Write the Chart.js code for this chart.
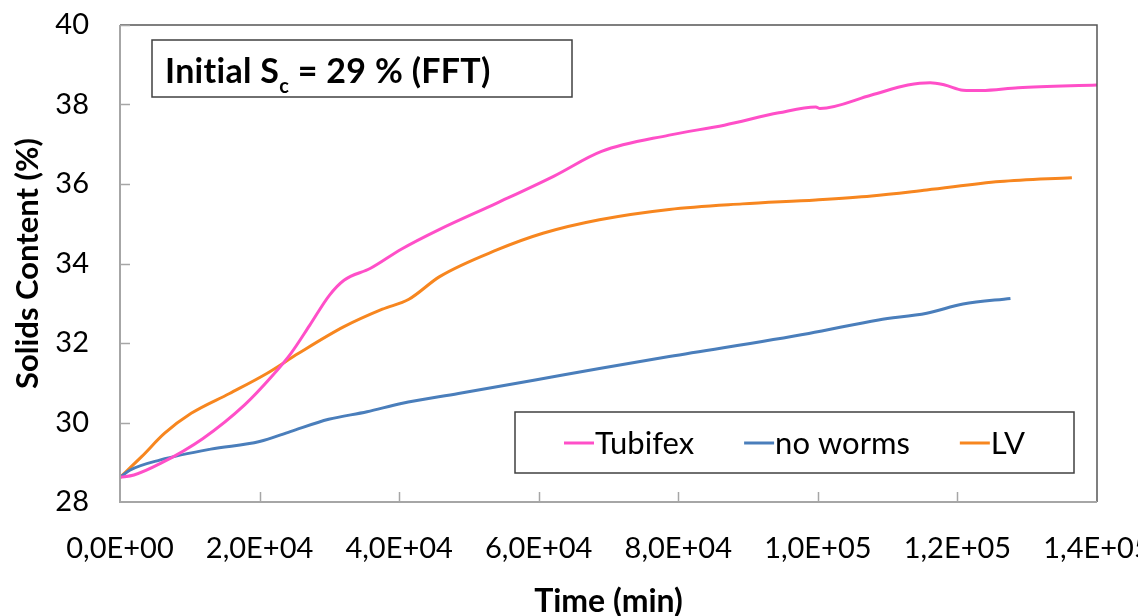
<!DOCTYPE html>
<html>
<head>
<meta charset="utf-8">
<script src="https://cdn.jsdelivr.net/npm/chart.js@4/dist/chart.umd.min.js"></script>
<style>
  html, body { margin: 0; padding: 0; background: #fff; }
  #wrap { width: 1138px; height: 616px; }
</style>
</head>
<body>
<div id="wrap"><canvas id="solidsChart" width="1138" height="616"></canvas></div>
<script>
// time in minutes, solids content in %
const tubifexTime = [0, 2000, 5800, 11900, 17900, 21700, 24500, 27200, 30000, 32100, 35900, 40300, 45800, 54000, 62200, 69000, 78700, 86600, 94400, 99700, 100300, 107700, 112900, 116100, 118200, 120800, 123400, 128700, 140000];
const tubifexSc = [28.62, 28.68, 28.97, 29.6, 30.45, 31.15, 31.74, 32.45, 33.2, 33.58, 33.88, 34.36, 34.86, 35.52, 36.2, 36.82, 37.23, 37.48, 37.79, 37.94, 37.9, 38.24, 38.49, 38.55, 38.49, 38.36, 38.35, 38.42, 38.49];

const noWormsTime = [0, 1400, 5800, 13000, 20000, 24400, 29900, 35400, 40300, 48500, 59500, 68700, 78700, 98700, 108700, 115600, 120800, 127600];
const noWormsSc = [28.62, 28.8, 29.06, 29.33, 29.52, 29.77, 30.08, 30.27, 30.48, 30.73, 31.07, 31.36, 31.66, 32.24, 32.58, 32.75, 32.98, 33.12];

const lvTime = [0, 3100, 6400, 10200, 15700, 21100, 25600, 32100, 37600, 41400, 45800, 54000, 60600, 68700, 78700, 89200, 99700, 107700, 115600, 126100, 136400];
const lvSc = [28.62, 29.14, 29.73, 30.23, 30.73, 31.24, 31.74, 32.41, 32.85, 33.1, 33.67, 34.34, 34.76, 35.1, 35.36, 35.5, 35.6, 35.7, 35.85, 36.06, 36.16];

const seriesNames = ["Tubifex", "no worms", "LV"];
const seriesColors = ["#ff4fc8", "#4a7ebb", "#f7861f"];

const xMin = 0, xMax = 140000, xStep = 20000;
const yMin = 28, yMax = 40, yStep = 2;

const fontName = "Lato, 'Open Sans', sans-serif";

function toPoints(xs, ys) {
  return xs.map((x, i) => ({ x: x, y: ys[i] }));
}

function sciLabel(v) {
  if (v === 0) return "0,0E+00";
  let e = Math.floor(Math.log10(v));
  let m = v / Math.pow(10, e);
  return m.toFixed(1).replace(".", ",") + "E+" + String(e).padStart(2, "0");
}

// frame, inward ticks, text box and legend box
const decorations = {
  id: "decorations",
  afterDatasetsDraw(chart) {
    const ctx = chart.ctx;
    const a = chart.chartArea;
    const xs = chart.scales.x;
    const ys = chart.scales.y;
    ctx.save();

    ctx.strokeStyle = "#555";
    ctx.lineWidth = 1.5;
    ctx.beginPath();
    ctx.moveTo(a.left, a.top);
    ctx.lineTo(a.right, a.top);
    ctx.lineTo(a.right, a.bottom);
    ctx.stroke();

    ctx.strokeStyle = "#a6a6a6";
    ctx.lineWidth = 2;
    ctx.beginPath();
    ctx.moveTo(a.left, a.top);
    ctx.lineTo(a.left, a.bottom);
    ctx.lineTo(a.right, a.bottom);
    ctx.stroke();

    ctx.lineWidth = 1.5;
    ctx.beginPath();
    xs.ticks.forEach((t) => {
      let px = Math.round(xs.getPixelForValue(t.value)) + 0.5;
      if (t.value === xMin || t.value === xMax) return;
      ctx.moveTo(px, a.bottom);
      ctx.lineTo(px, a.bottom - 10);
    });
    ys.ticks.forEach((t) => {
      let py = Math.round(ys.getPixelForValue(t.value)) + 0.5;
      if (t.value === yMin) return;
      ctx.moveTo(a.left, py);
      ctx.lineTo(a.left + 10, py);
    });
    ctx.stroke();

    // "Initial Sc = 29 % (FFT)"
    ctx.fillStyle = "#fff";
    ctx.fillRect(152, 40, 420, 57);
    ctx.strokeStyle = "#404040";
    ctx.lineWidth = 1.5;
    ctx.strokeRect(152, 40, 420, 57);
    ctx.fillStyle = "#000";
    ctx.textBaseline = "alphabetic";
    ctx.textAlign = "left";
    ctx.letterSpacing = "0.3px";
    let tx = 165;
    ctx.font = "bold 34px " + fontName;
    ctx.fillText("Initial S", tx, 83);
    tx += ctx.measureText("Initial S").width;
    ctx.font = "bold 20px " + fontName;
    ctx.fillText("c", tx, 93);
    tx += ctx.measureText("c").width;
    ctx.font = "bold 34px " + fontName;
    ctx.fillText(" = 29 % (FFT)", tx, 83);
    ctx.letterSpacing = "0px";

    // legend
    ctx.fillStyle = "#fff";
    ctx.fillRect(515, 412, 559, 61);
    ctx.strokeStyle = "#404040";
    ctx.lineWidth = 1.5;
    ctx.strokeRect(515, 412, 559, 61);
    ctx.font = "31px " + fontName;
    ctx.textBaseline = "middle";
    let lx = 564;
    const ly = 443;
    seriesNames.forEach((name, i) => {
      ctx.strokeStyle = seriesColors[i];
      ctx.lineWidth = 3;
      ctx.beginPath();
      ctx.moveTo(lx, ly);
      ctx.lineTo(lx + 30, ly);
      ctx.stroke();
      ctx.fillStyle = "#000";
      ctx.fillText(name, lx + 31, ly + 1);
      lx += 31 + ctx.measureText(name).width + 50;
    });

    ctx.restore();
  },
};

const lineStyle = (i) => ({
  borderColor: seriesColors[i],
  backgroundColor: seriesColors[i],
  borderWidth: 3,
  pointRadius: 0,
  fill: false,
  cubicInterpolationMode: "monotone",
});

let solidsChart = new Chart(document.getElementById("solidsChart"), {
  type: "line",
  data: {
    datasets: [
      { label: seriesNames[0], data: toPoints(tubifexTime, tubifexSc), ...lineStyle(0) },
      { label: seriesNames[1], data: toPoints(noWormsTime, noWormsSc), ...lineStyle(1) },
      { label: seriesNames[2], data: toPoints(lvTime, lvSc), ...lineStyle(2) },
    ],
  },
  options: {
    responsive: false,
    animation: false,
    layout: { padding: { top: 25, right: 41, bottom: 0, left: 0 } },
    plugins: {
      legend: { display: false },
      tooltip: { enabled: false },
    },
    scales: {
      x: {
        type: "linear",
        min: xMin,
        max: xMax,
        grid: { display: false, drawTicks: false },
        border: { display: false },
        ticks: {
          stepSize: xStep,
          autoSkip: false,
          maxRotation: 0,
          padding: 29,
          color: "#000",
          font: { family: fontName, size: 29 },
          callback: (v) => sciLabel(v),
        },
        title: {
          display: true,
          text: "Time (min)",
          color: "#000",
          font: { family: fontName, size: 32, weight: "bold", lineHeight: 0.9 },
          padding: { top: 0, bottom: 0 },
        },
        afterFit(scale) {
          scale.height = 114;
          scale.paddingLeft = 0;
          scale.paddingRight = 0;
        },
      },
      y: {
        min: yMin,
        max: yMax,
        grid: { display: false, drawTicks: false },
        border: { display: false },
        ticks: {
          stepSize: yStep,
          padding: 31,
          color: "#000",
          font: { family: fontName, size: 29 },
        },
        title: {
          display: true,
          text: "Solids Content (%)",
          color: "#000",
          font: { family: fontName, size: 31, weight: "bold" },
          padding: { top: 9, bottom: 0 },
        },
        afterFit(scale) {
          scale.width = 120;
          scale.paddingTop = 0;
          scale.paddingBottom = 0;
        },
      },
    },
  },
  plugins: [decorations],
});
</script>
</body>
</html>
